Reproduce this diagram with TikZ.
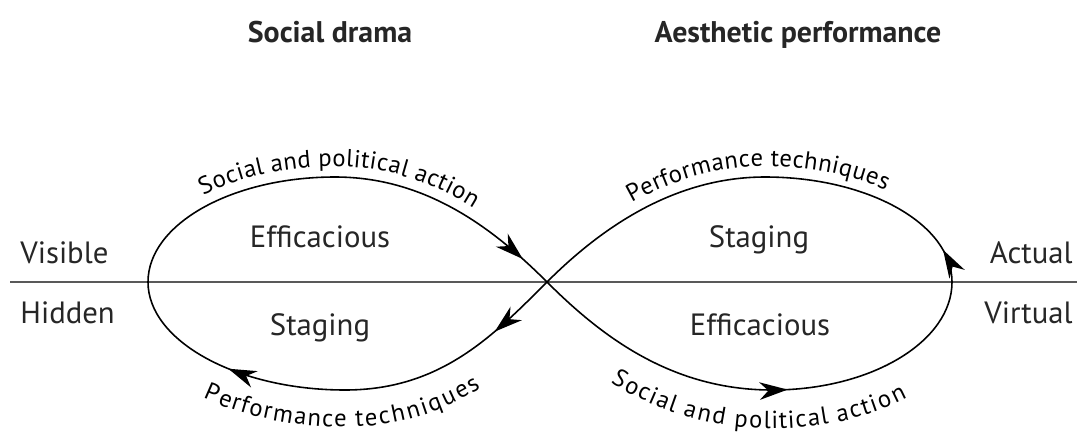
\documentclass[tikz,border=0pt]{standalone}
\usepackage{fontspec}
\setmainfont{PT Sans}
\usetikzlibrary{arrows.meta,decorations.markings,decorations.text}

\newcommand{\arcfont}{\fontsize{14pt}{16pt}\selectfont}

\begin{document}
\begin{tikzpicture}[x=0.02cm,y=-0.02cm]
		% Define arrow styles for placement along the loops
		\tikzset{->-/.style={postaction={decorate,decoration={markings, mark=at position #1 with {\arrow{Stealth[length=16pt,width=10pt,inset=5pt]}}}}},
			-<-/.style={postaction={decorate,decoration={markings, mark=at position #1 with {\arrowreversed{Stealth[length=16pt,width=10pt,inset=5pt]}}}}},
			arclabel/.style 2 args={postaction={decorate,decoration={text along path, text={|\arcfont|#1}, text align=center, raise=#2}}},
			loopline/.style={line width=0.9pt},
			bigtext/.style={inner sep=0pt, text=black!85, font=\fontsize{17.5pt}{20pt}\selectfont},
			headtext/.style={inner sep=0pt, text=black!85, font=\fontsize{17pt}{20pt}\selectfont\bfseries}}
		\useasboundingbox (0,0) rectangle (1077,433);
		
		% Points of the figure eight
		\coordinate (X) at (547,282);
		\coordinate (ll) at (148,282);
		\coordinate (lt) at (335,177);
		\coordinate (lb) at (345,390);
		\coordinate (rr) at (952,282);
		\coordinate (rt) at (765,177);
		\coordinate (rb) at (772,390);
		\coordinate (axL) at (10,282);
		\coordinate (axR) at (1077,282);
		
		% Draw the dividing line
		\draw[line width=1.3pt, black!65] (axL) -- (axR);
		
		% Draw the left loop
		\draw[loopline,->-=0.93,arclabel={Social and political action}{6pt}] (ll) .. controls +(0,-58) and +(-103,0) .. (lt) .. controls +(90,0) and +(-55,-55) .. (X);
		\draw[loopline,-<-=0.26,-<-=0.85,arclabel={Performance techniques}{-21pt}] (ll) .. controls +(0,59) and +(-108,0) .. (lb) .. controls +(95,0) and +(-55,55) .. (X);
		
		% Draw the right loop
		\draw[loopline,-<-=0.93,arclabel={Performance techniques}{6pt}] (X) .. controls +(55,-55) and +(-90,0) .. (rt) .. controls +(103,0) and +(0,-58) .. (rr);
		\draw[loopline,->-=0.56,arclabel={Social and political action}{-22pt}] (X) .. controls +(55,55) and +(-100,0) .. (rb) .. controls +(100,0) and +(0,59) .. (rr);
		
		% Add labels
		\node[headtext, anchor=base] (social) at (330,42) {Social drama};
		\node[headtext, anchor=base] (aesthetic) at (798,42) {Aesthetic performance};
		\node[bigtext, anchor=base west] (visible) at (20,263) {Visible};
		\node[bigtext, anchor=base west] (hidden) at (20,323) {Hidden};
		\node[bigtext, anchor=base east] (actual) at (1073,263) {Actual};
		\node[bigtext, anchor=base east] (virtual) at (1073,323) {Virtual};
		\node[bigtext, anchor=base] (effleft) at (320,247) {Efficacious};
		\node[bigtext, anchor=base] (stageleft) at (320,335) {Staging};
		\node[bigtext, anchor=base] (stageright) at (759,247) {Staging};
		\node[bigtext, anchor=base] (effright) at (760,335) {Efficacious};
	\end{tikzpicture}
\end{document}
